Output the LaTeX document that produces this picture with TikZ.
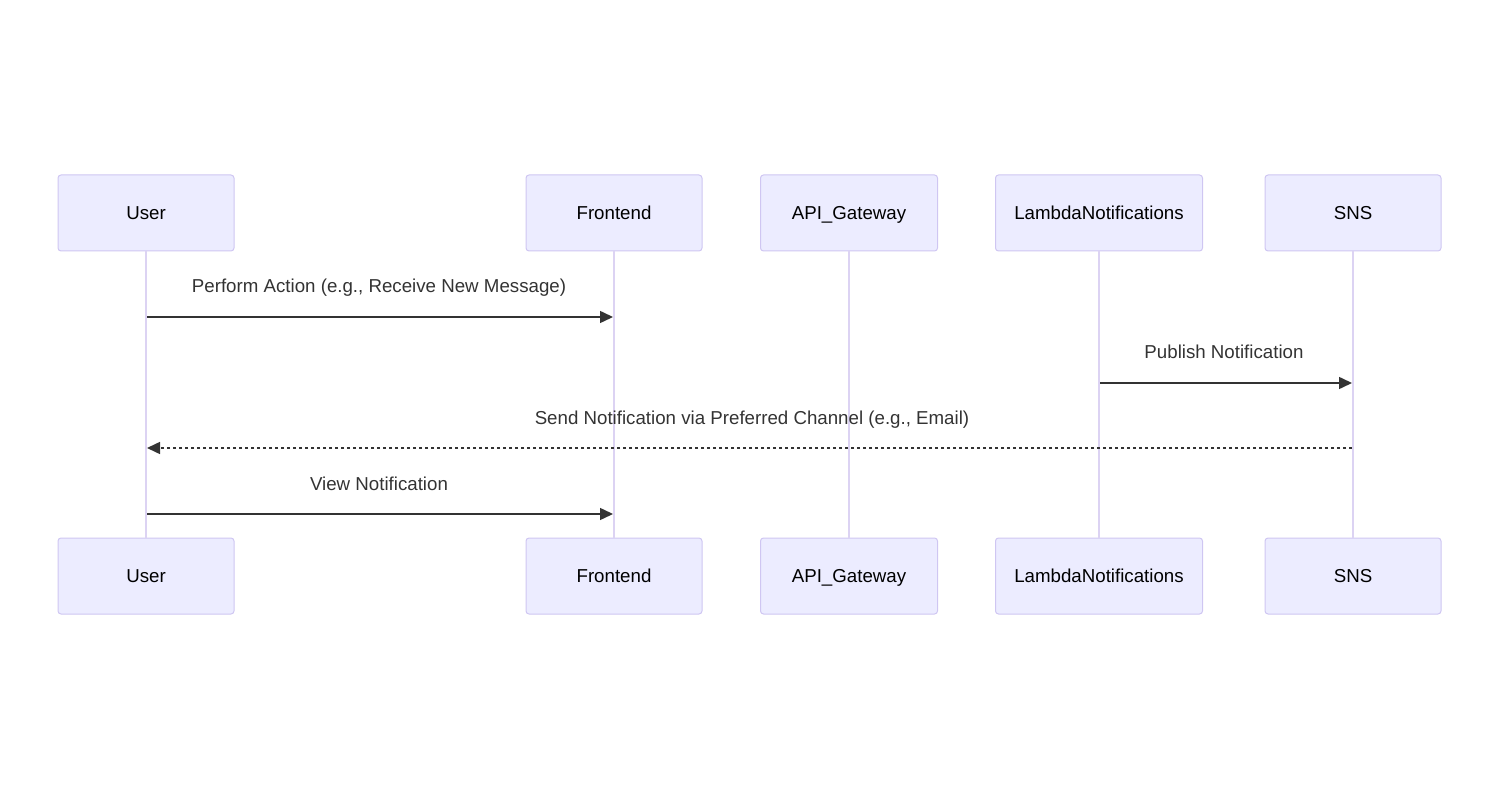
\documentclass[tikz,border=0pt]{standalone}
\usepackage{fontspec}
\setmainfont{Liberation Sans}
\usetikzlibrary{arrows.meta, positioning}
\definecolor{actorfill}{HTML}{ECECFF}
\definecolor{actorline}{HTML}{CFC6F2}
\definecolor{lifeline}{HTML}{DCD3F3}
\definecolor{msgcol}{HTML}{333333}

\begin{document}
\begin{tikzpicture}[
    x=1pt, y=-1pt,
    actor/.style = {rectangle, draw=actorline, fill=actorfill, rounded corners=3pt,
                    line width=1pt, minimum height=76pt, inner sep=0pt,
                    text height=13.4pt, text depth=0pt,
                    font=\fontsize{18.7}{22}\selectfont},
    life/.style = {draw=lifeline, line width=2pt},
    msg/.style = {draw=msgcol, line width=1.5pt, -{Triangle[length=13pt,width=12pt]}},
    reply/.style = {msg, dash pattern=on 3pt off 3pt},
    lbl/.style = {text=msgcol, font=\fontsize{18.7}{22}\selectfont, inner sep=0pt, anchor=base}
    ]
  \useasboundingbox (0,0) rectangle (1500,791);

  % top actors
  \node[actor, minimum width=176pt] (userT) at (146,213) {User} ;
  \node[actor, minimum width=176pt] (frontT) at (614,213) {Frontend} ;
  \node[actor, minimum width=177pt] (apiT) at (849,213) {API\_Gateway} ;
  \node[actor, minimum width=207pt] (lambdaT) at (1099,213) {LambdaNotifications} ;
  \node[actor, minimum width=176pt] (snsT) at (1353,213) {SNS} ;

  % bottom actors
  \node[actor, minimum width=176pt] (userB) at (146,576) {User} ;
  \node[actor, minimum width=176pt] (frontB) at (614,576) {Frontend} ;
  \node[actor, minimum width=177pt] (apiB) at (849,576) {API\_Gateway} ;
  \node[actor, minimum width=207pt] (lambdaB) at (1099,576) {LambdaNotifications} ;
  \node[actor, minimum width=176pt] (snsB) at (1353,576) {SNS} ;

  % lifelines
  \draw[life]
  (userT) -- (userB)
  (frontT) -- (frontB)
  (apiT) -- (apiB)
  (lambdaT) -- (lambdaB)
  (snsT) -- (snsB);

  % message points on the lifelines
  \coordinate (u1) at (147,317) ;
  \coordinate (f1) at (613,317) ;
  \coordinate (l2) at (1100,383) ;
  \coordinate (s2) at (1352,383) ;
  \coordinate (s3) at (1352,448) ;
  \coordinate (u3) at (147,448) ;
  \coordinate (u4) at (147,514) ;
  \coordinate (f4) at (613,514) ;

  \draw[msg] (u1) -- (f1) ;
  \node[lbl] (m1) at (379,293) {Perform Action (e.g., Receive New Message)} ;
  \draw[msg] (l2) -- (s2) ;
  \node[lbl] (m2) at (1224,359) {Publish Notification} ;
  \draw[reply] (s3) -- (u3) ;
  \node[lbl] (m3) at (752,425) {Send Notification via Preferred Channel (e.g., Email)} ;
  \draw[msg] (u4) -- (f4) ;
  \node[lbl] (m4) at (379,490) {View Notification} ;
\end{tikzpicture}
\end{document}
